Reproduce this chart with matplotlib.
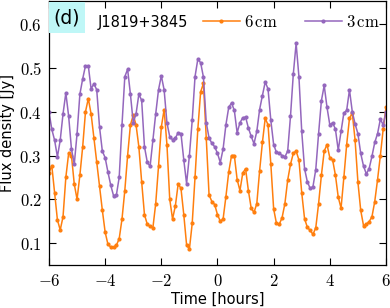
import numpy as np
import matplotlib
matplotlib.use('Agg')
import matplotlib.pyplot as plt
from matplotlib.ticker import FuncFormatter
from matplotlib.patches import Rectangle

plt.rcParams['mathtext.fontset'] = 'cm'

# time grid, 0.1 h steps
time = np.round(np.arange(-6.0, 6.001, 0.1), 1)

flux_6cm = [0.26, 0.277, 0.215, 0.153, 0.13, 0.16, 0.25, 0.305, 0.30, 0.235,
            0.20, 0.255, 0.32, 0.40, 0.43, 0.395, 0.34, 0.285, 0.23, 0.175,
            0.125, 0.097, 0.091, 0.09, 0.095, 0.11, 0.155, 0.22, 0.30, 0.37,
            0.392, 0.37, 0.32, 0.24, 0.165, 0.143, 0.138, 0.135, 0.19, 0.275,
            0.365, 0.405, 0.325, 0.20, 0.155, 0.185, 0.235, 0.225, 0.165, 0.096,
            0.086, 0.145, 0.25, 0.36, 0.445, 0.465, 0.34, 0.21, 0.195, 0.188,
            0.165, 0.15, 0.155, 0.206, 0.262, 0.30, 0.30, 0.245, 0.22, 0.26,
            0.27, 0.22, 0.18, 0.17, 0.19, 0.265, 0.33, 0.385, 0.37, 0.28,
            0.178, 0.145, 0.143, 0.158, 0.19, 0.244, 0.28, 0.305, 0.31, 0.29,
            0.215, 0.156, 0.136, 0.129, 0.12, 0.135, 0.19, 0.255, 0.31, 0.325,
            0.295, 0.29, 0.255, 0.205, 0.18, 0.25, 0.325, 0.385, 0.397, 0.335,
            0.24, 0.175, 0.14, 0.143, 0.149, 0.16, 0.195, 0.245, 0.30, 0.36,
            0.41]

flux_3cm = [0.40, 0.36, 0.335, 0.297, 0.335, 0.395, 0.443, 0.39, 0.315, 0.28,
            0.35, 0.44, 0.475, 0.505, 0.505, 0.452, 0.464, 0.45, 0.365, 0.31,
            0.295, 0.262, 0.232, 0.208, 0.21, 0.25, 0.37, 0.48, 0.497, 0.44,
            0.375, 0.395, 0.44, 0.426, 0.32, 0.285, 0.275, 0.335, 0.395, 0.45,
            0.482, 0.45, 0.375, 0.343, 0.336, 0.34, 0.352, 0.35, 0.29, 0.236,
            0.30, 0.38, 0.48, 0.52, 0.512, 0.479, 0.375, 0.34, 0.328, 0.32,
            0.305, 0.284, 0.315, 0.37, 0.41, 0.42, 0.403, 0.352, 0.375, 0.386,
            0.388, 0.363, 0.344, 0.327, 0.355, 0.405, 0.437, 0.468, 0.452, 0.38,
            0.325, 0.307, 0.305, 0.30, 0.297, 0.31, 0.39, 0.486, 0.556, 0.48,
            0.355, 0.27, 0.24, 0.225, 0.229, 0.268, 0.35, 0.425, 0.46, 0.41,
            0.37, 0.375, 0.36, 0.312, 0.355, 0.397, 0.403, 0.45, 0.40, 0.372,
            0.35, 0.305, 0.276, 0.258, 0.27, 0.298, 0.33, 0.35, 0.383, 0.37,
            0.40]

c6 = '#ff7f0e'
c3 = '#9467bd'

fig = plt.figure(figsize=(3.9, 3.08), dpi=100)
ax = fig.add_axes([0.1256, 0.1396, 0.8641, 0.8574])

l6, = ax.plot(time, flux_6cm, color=c6, lw=1.1, marker='o', ms=2.0)
l3, = ax.plot(time, flux_3cm, color=c3, lw=1.1, marker='o', ms=2.0)

ax.set_xlim(-6, 6)
ax.set_ylim(0.05, 0.653)
ax.set_xticks([-6, -4, -2, 0, 2, 4, 6])
ax.set_yticks([0.1, 0.2, 0.3, 0.4, 0.5, 0.6])
ax.xaxis.set_major_formatter(FuncFormatter(lambda v, p: r'$%d$' % v))
ax.yaxis.set_major_formatter(FuncFormatter(lambda v, p: r'$%.1f$' % v))
ax.tick_params(direction='in', top=True, right=True, length=5, width=0.8, labelsize=12, pad=5)
for s in ax.spines.values():
    s.set_linewidth(0.9)

ax.set_xlabel('Time [hours]', fontsize=10.5, labelpad=1)
ax.set_ylabel('Flux density [Jy]', fontsize=10.5, labelpad=3)

# panel label box
ax.add_patch(Rectangle((0.0, 0.877), 0.107, 0.12, transform=ax.transAxes,
                       fc='#bff7f7', ec='none', zorder=3))
ax.text(0.053, 0.937, '(d)', transform=ax.transAxes, fontsize=13.5, va='center',
        ha='center', zorder=4)
ax.text(0.279, 0.92, 'J1819+3845', transform=ax.transAxes, fontsize=10.5,
        va='center', ha='center')

leg_kw = dict(loc='center left', frameon=False, fontsize=12, handlelength=2.2,
              handletextpad=0.25, borderaxespad=0.0, borderpad=0.0)
leg1 = ax.legend([l6], [r'$6\,\mathrm{cm}$'], bbox_to_anchor=(0.457, 0.92), **leg_kw)
ax.add_artist(leg1)
ax.legend([l3], [r'$3\,\mathrm{cm}$'], bbox_to_anchor=(0.76, 0.92), **leg_kw)

fig.savefig('out.png', dpi=100)
